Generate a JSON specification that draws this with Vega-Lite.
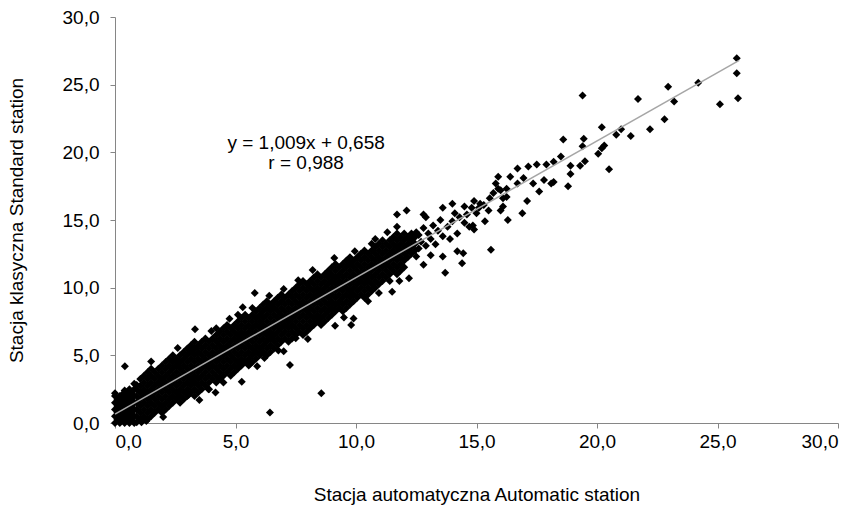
{
"$schema":"https://vega.github.io/schema/vega-lite/v6.json",
"autosize":"none",
"width":723,"height":406,
"padding":{"left":115,"top":17,"right":21,"bottom":85},
"background":"white",
"config":{"view":{"stroke":null},"font":"Liberation Sans",
"axis":{"grid":false,"domainColor":"#868686","tickColor":"#868686","tickSize":5,"labelColor":"#000000","labelFont":"Liberation Sans","labelFontSize":19,"titleFont":"Liberation Sans","titleFontSize":19,"titleFontWeight":"normal","titleColor":"#000000"}},
"datasets":{
"pts":[
{"x":0,"y":0},{"x":0,"y":0.5},{"x":0,"y":1.0},{"x":0,"y":1.5},{"x":0,"y":2.0},{"x":0,"y":2.2},
{"x":0.1,"y":0.25},{"x":0.1,"y":0.75},{"x":0.1,"y":1.25},{"x":0.1,"y":1.75},
{"x":0.2,"y":0},{"x":0.2,"y":0.5},{"x":0.2,"y":1.0},{"x":0.2,"y":1.5},{"x":0.2,"y":2.0},
{"x":0.3,"y":0.25},{"x":0.3,"y":0.75},{"x":0.3,"y":1.25},{"x":0.3,"y":1.75},{"x":0.3,"y":2.1},
{"x":0.4,"y":0},{"x":0.4,"y":0.5},{"x":0.4,"y":1.0},{"x":0.4,"y":1.5},{"x":0.4,"y":2.0},{"x":0.4,"y":2.4},
{"x":0.5,"y":0.25},{"x":0.5,"y":0.75},{"x":0.5,"y":1.25},{"x":0.5,"y":1.75},{"x":0.5,"y":2.25},
{"x":0.6,"y":0},{"x":0.6,"y":0.5},{"x":0.6,"y":1.0},{"x":0.6,"y":1.5},{"x":0.6,"y":2.0},{"x":0.6,"y":2.5},
{"x":0.7,"y":0.25},{"x":0.7,"y":0.75},{"x":0.7,"y":1.25},{"x":0.7,"y":1.75},{"x":0.7,"y":2.25},
{"x":0.8,"y":0},{"x":0.8,"y":0.5},{"x":0.8,"y":1.0},{"x":0.8,"y":1.5},{"x":0.8,"y":2.0},{"x":0.8,"y":2.5},{"x":0.8,"y":2.9},
{"x":0.9,"y":0.05},{"x":0.9,"y":0.5},{"x":0.9,"y":1.0},{"x":0.9,"y":1.5},{"x":0.9,"y":2.0},{"x":0.9,"y":2.5},{"x":0.9,"y":2.8},{"x":1.1,"y":0.05},{"x":1.3,"y":0.15},
{"x":1.05,"y":0.25},{"x":1.05,"y":0.75},{"x":1.05,"y":1.25},{"x":1.05,"y":1.75},{"x":1.05,"y":2.25},{"x":1.05,"y":2.75},{"x":1.05,"y":3.25},
{"x":1.2,"y":0.5},{"x":1.2,"y":1.0},{"x":1.2,"y":1.5},{"x":1.2,"y":2.0},{"x":1.2,"y":2.5},{"x":1.2,"y":3.0},{"x":1.2,"y":3.5},
{"x":1.35,"y":0.25},{"x":1.35,"y":0.75},{"x":1.35,"y":1.25},{"x":1.35,"y":1.75},{"x":1.35,"y":2.25},{"x":1.35,"y":2.75},{"x":1.35,"y":3.25},{"x":1.35,"y":3.75},
{"x":1.5,"y":0.5},{"x":1.5,"y":1.0},{"x":1.5,"y":1.5},{"x":1.5,"y":2.0},{"x":1.5,"y":2.5},{"x":1.5,"y":3.0},{"x":1.5,"y":3.5},{"x":1.5,"y":4.0},
{"x":1.65,"y":0.75},{"x":1.65,"y":1.25},{"x":1.65,"y":1.75},{"x":1.65,"y":2.25},{"x":1.65,"y":2.75},{"x":1.65,"y":3.25},{"x":1.65,"y":3.75},
{"x":1.8,"y":1.0},{"x":1.8,"y":1.5},{"x":1.8,"y":2.0},{"x":1.8,"y":2.5},{"x":1.8,"y":3.0},{"x":1.8,"y":3.5},{"x":1.8,"y":4.0},
{"x":1.95,"y":0.75},{"x":1.95,"y":1.25},{"x":1.95,"y":1.75},{"x":1.95,"y":2.25},{"x":1.95,"y":2.75},{"x":1.95,"y":3.25},{"x":1.95,"y":3.75},{"x":1.95,"y":4.25},
{"x":2.1,"y":1.0},{"x":2.1,"y":1.5},{"x":2.1,"y":2.0},{"x":2.1,"y":2.5},{"x":2.1,"y":3.0},{"x":2.1,"y":3.5},{"x":2.1,"y":4.0},{"x":2.1,"y":4.5},
{"x":2.25,"y":1.25},{"x":2.25,"y":1.75},{"x":2.25,"y":2.25},{"x":2.25,"y":2.75},{"x":2.25,"y":3.25},{"x":2.25,"y":3.75},{"x":2.25,"y":4.25},{"x":2.25,"y":4.75},
{"x":2.4,"y":1.5},{"x":2.4,"y":2.0},{"x":2.4,"y":2.5},{"x":2.4,"y":3.0},{"x":2.4,"y":3.5},{"x":2.4,"y":4.0},{"x":2.4,"y":4.5},{"x":2.4,"y":5.0},
{"x":2.55,"y":1.75},{"x":2.55,"y":2.25},{"x":2.55,"y":2.75},{"x":2.55,"y":3.25},{"x":2.55,"y":3.75},{"x":2.55,"y":4.25},{"x":2.55,"y":4.75},
{"x":2.7,"y":1.5},{"x":2.7,"y":2.0},{"x":2.7,"y":2.5},{"x":2.7,"y":3.0},{"x":2.7,"y":3.5},{"x":2.7,"y":4.0},{"x":2.7,"y":4.5},{"x":2.7,"y":5.0},
{"x":2.85,"y":1.75},{"x":2.85,"y":2.25},{"x":2.85,"y":2.75},{"x":2.85,"y":3.25},{"x":2.85,"y":3.75},{"x":2.85,"y":4.25},{"x":2.85,"y":4.75},{"x":2.85,"y":5.25},
{"x":3.0,"y":2.0},{"x":3.0,"y":2.5},{"x":3.0,"y":3.0},{"x":3.0,"y":3.5},{"x":3.0,"y":4.0},{"x":3.0,"y":4.5},{"x":3.0,"y":5.0},{"x":3.0,"y":5.5},
{"x":3.15,"y":2.25},{"x":3.15,"y":2.75},{"x":3.15,"y":3.25},{"x":3.15,"y":3.75},{"x":3.15,"y":4.25},{"x":3.15,"y":4.75},{"x":3.15,"y":5.25},{"x":3.15,"y":5.75},
{"x":3.3,"y":2.0},{"x":3.3,"y":2.5},{"x":3.3,"y":3.0},{"x":3.3,"y":3.5},{"x":3.3,"y":4.0},{"x":3.3,"y":4.5},{"x":3.3,"y":5.0},{"x":3.3,"y":5.5},{"x":3.3,"y":6.0},
{"x":3.45,"y":2.25},{"x":3.45,"y":2.75},{"x":3.45,"y":3.25},{"x":3.45,"y":3.75},{"x":3.45,"y":4.25},{"x":3.45,"y":4.75},{"x":3.45,"y":5.25},{"x":3.45,"y":5.75},
{"x":3.6,"y":2.5},{"x":3.6,"y":3.0},{"x":3.6,"y":3.5},{"x":3.6,"y":4.0},{"x":3.6,"y":4.5},{"x":3.6,"y":5.0},{"x":3.6,"y":5.5},{"x":3.6,"y":6.0},
{"x":3.75,"y":2.75},{"x":3.75,"y":3.25},{"x":3.75,"y":3.75},{"x":3.75,"y":4.25},{"x":3.75,"y":4.75},{"x":3.75,"y":5.25},{"x":3.75,"y":5.75},{"x":3.75,"y":6.25},
{"x":3.9,"y":2.5},{"x":3.9,"y":3.0},{"x":3.9,"y":3.5},{"x":3.9,"y":4.0},{"x":3.9,"y":4.5},{"x":3.9,"y":5.0},{"x":3.9,"y":5.5},{"x":3.9,"y":6.0},
{"x":4.05,"y":3.25},{"x":4.05,"y":3.75},{"x":4.05,"y":4.25},{"x":4.05,"y":4.75},{"x":4.05,"y":5.25},{"x":4.05,"y":5.75},{"x":4.05,"y":6.25},
{"x":4.2,"y":3.0},{"x":4.2,"y":3.5},{"x":4.2,"y":4.0},{"x":4.2,"y":4.5},{"x":4.2,"y":5.0},{"x":4.2,"y":5.5},{"x":4.2,"y":6.0},{"x":4.2,"y":6.5},{"x":4.2,"y":7.0},
{"x":4.35,"y":3.25},{"x":4.35,"y":3.75},{"x":4.35,"y":4.25},{"x":4.35,"y":4.75},{"x":4.35,"y":5.25},{"x":4.35,"y":5.75},{"x":4.35,"y":6.25},{"x":4.35,"y":6.75},
{"x":4.5,"y":3.5},{"x":4.5,"y":4.0},{"x":4.5,"y":4.5},{"x":4.5,"y":5.0},{"x":4.5,"y":5.5},{"x":4.5,"y":6.0},{"x":4.5,"y":6.5},{"x":4.5,"y":7.0},
{"x":4.65,"y":3.75},{"x":4.65,"y":4.25},{"x":4.65,"y":4.75},{"x":4.65,"y":5.25},{"x":4.65,"y":5.75},{"x":4.65,"y":6.25},{"x":4.65,"y":6.75},{"x":4.65,"y":7.25},
{"x":4.8,"y":3.5},{"x":4.8,"y":4.0},{"x":4.8,"y":4.5},{"x":4.8,"y":5.0},{"x":4.8,"y":5.5},{"x":4.8,"y":6.0},{"x":4.8,"y":6.5},{"x":4.8,"y":7.0},
{"x":4.95,"y":3.75},{"x":4.95,"y":4.25},{"x":4.95,"y":4.75},{"x":4.95,"y":5.25},{"x":4.95,"y":5.75},{"x":4.95,"y":6.25},{"x":4.95,"y":6.75},{"x":4.95,"y":7.25},
{"x":5.1,"y":4.0},{"x":5.1,"y":4.5},{"x":5.1,"y":5.0},{"x":5.1,"y":5.5},{"x":5.1,"y":6.0},{"x":5.1,"y":6.5},{"x":5.1,"y":7.0},{"x":5.1,"y":7.5},{"x":5.1,"y":8.0},
{"x":5.25,"y":4.25},{"x":5.25,"y":4.75},{"x":5.25,"y":5.25},{"x":5.25,"y":5.75},{"x":5.25,"y":6.25},{"x":5.25,"y":6.75},{"x":5.25,"y":7.25},{"x":5.25,"y":7.75},
{"x":5.4,"y":4.5},{"x":5.4,"y":5.0},{"x":5.4,"y":5.5},{"x":5.4,"y":6.0},{"x":5.4,"y":6.5},{"x":5.4,"y":7.0},{"x":5.4,"y":7.5},{"x":5.4,"y":8.0},
{"x":5.55,"y":4.25},{"x":5.55,"y":4.75},{"x":5.55,"y":5.25},{"x":5.55,"y":5.75},{"x":5.55,"y":6.25},{"x":5.55,"y":6.75},{"x":5.55,"y":7.25},{"x":5.55,"y":7.75},
{"x":5.7,"y":4.5},{"x":5.7,"y":5.0},{"x":5.7,"y":5.5},{"x":5.7,"y":6.0},{"x":5.7,"y":6.5},{"x":5.7,"y":7.0},{"x":5.7,"y":7.5},{"x":5.7,"y":8.0},{"x":5.7,"y":8.5},
{"x":5.85,"y":4.75},{"x":5.85,"y":5.25},{"x":5.85,"y":5.75},{"x":5.85,"y":6.25},{"x":5.85,"y":6.75},{"x":5.85,"y":7.25},{"x":5.85,"y":7.75},{"x":5.85,"y":8.25},
{"x":6.0,"y":5.0},{"x":6.0,"y":5.5},{"x":6.0,"y":6.0},{"x":6.0,"y":6.5},{"x":6.0,"y":7.0},{"x":6.0,"y":7.5},{"x":6.0,"y":8.0},{"x":6.0,"y":8.5},
{"x":6.15,"y":5.25},{"x":6.15,"y":5.75},{"x":6.15,"y":6.25},{"x":6.15,"y":6.75},{"x":6.15,"y":7.25},{"x":6.15,"y":7.75},{"x":6.15,"y":8.25},{"x":6.15,"y":8.75},
{"x":6.3,"y":5.0},{"x":6.3,"y":5.5},{"x":6.3,"y":6.0},{"x":6.3,"y":6.5},{"x":6.3,"y":7.0},{"x":6.3,"y":7.5},{"x":6.3,"y":8.0},{"x":6.3,"y":8.5},{"x":6.3,"y":9.0},
{"x":6.45,"y":5.25},{"x":6.45,"y":5.75},{"x":6.45,"y":6.25},{"x":6.45,"y":6.75},{"x":6.45,"y":7.25},{"x":6.45,"y":7.75},{"x":6.45,"y":8.25},{"x":6.45,"y":8.75},
{"x":6.6,"y":5.5},{"x":6.6,"y":6.0},{"x":6.6,"y":6.5},{"x":6.6,"y":7.0},{"x":6.6,"y":7.5},{"x":6.6,"y":8.0},{"x":6.6,"y":8.5},{"x":6.6,"y":9.0},
{"x":6.75,"y":5.75},{"x":6.75,"y":6.25},{"x":6.75,"y":6.75},{"x":6.75,"y":7.25},{"x":6.75,"y":7.75},{"x":6.75,"y":8.25},{"x":6.75,"y":8.75},{"x":6.75,"y":9.25},
{"x":6.9,"y":6.0},{"x":6.9,"y":6.5},{"x":6.9,"y":7.0},{"x":6.9,"y":7.5},{"x":6.9,"y":8.0},{"x":6.9,"y":8.5},{"x":6.9,"y":9.0},{"x":6.9,"y":9.5},
{"x":7.05,"y":6.25},{"x":7.05,"y":6.75},{"x":7.05,"y":7.25},{"x":7.05,"y":7.75},{"x":7.05,"y":8.25},{"x":7.05,"y":8.75},{"x":7.05,"y":9.25},
{"x":7.2,"y":6.0},{"x":7.2,"y":6.5},{"x":7.2,"y":7.0},{"x":7.2,"y":7.5},{"x":7.2,"y":8.0},{"x":7.2,"y":8.5},{"x":7.2,"y":9.0},{"x":7.2,"y":9.5},
{"x":7.35,"y":6.25},{"x":7.35,"y":6.75},{"x":7.35,"y":7.25},{"x":7.35,"y":7.75},{"x":7.35,"y":8.25},{"x":7.35,"y":8.75},{"x":7.35,"y":9.25},{"x":7.35,"y":9.75},
{"x":7.5,"y":6.5},{"x":7.5,"y":7.0},{"x":7.5,"y":7.5},{"x":7.5,"y":8.0},{"x":7.5,"y":8.5},{"x":7.5,"y":9.0},{"x":7.5,"y":9.5},{"x":7.5,"y":10.0},
{"x":7.65,"y":6.75},{"x":7.65,"y":7.25},{"x":7.65,"y":7.75},{"x":7.65,"y":8.25},{"x":7.65,"y":8.75},{"x":7.65,"y":9.25},{"x":7.65,"y":9.75},{"x":7.65,"y":10.25},
{"x":7.8,"y":6.5},{"x":7.8,"y":7.0},{"x":7.8,"y":7.5},{"x":7.8,"y":8.0},{"x":7.8,"y":8.5},{"x":7.8,"y":9.0},{"x":7.8,"y":9.5},{"x":7.8,"y":10.0},{"x":7.8,"y":10.5},
{"x":7.95,"y":6.75},{"x":7.95,"y":7.25},{"x":7.95,"y":7.75},{"x":7.95,"y":8.25},{"x":7.95,"y":8.75},{"x":7.95,"y":9.25},{"x":7.95,"y":9.75},{"x":7.95,"y":10.25},
{"x":8.1,"y":7.0},{"x":8.1,"y":7.5},{"x":8.1,"y":8.0},{"x":8.1,"y":8.5},{"x":8.1,"y":9.0},{"x":8.1,"y":9.5},{"x":8.1,"y":10.0},{"x":8.1,"y":10.5},
{"x":8.25,"y":7.25},{"x":8.25,"y":7.75},{"x":8.25,"y":8.25},{"x":8.25,"y":8.75},{"x":8.25,"y":9.25},{"x":8.25,"y":9.75},{"x":8.25,"y":10.25},{"x":8.25,"y":10.75},
{"x":8.4,"y":7.5},{"x":8.4,"y":8.0},{"x":8.4,"y":8.5},{"x":8.4,"y":9.0},{"x":8.4,"y":9.5},{"x":8.4,"y":10.0},{"x":8.4,"y":10.5},{"x":8.4,"y":11.0},
{"x":8.55,"y":7.25},{"x":8.55,"y":7.75},{"x":8.55,"y":8.25},{"x":8.55,"y":8.75},{"x":8.55,"y":9.25},{"x":8.55,"y":9.75},{"x":8.55,"y":10.25},{"x":8.55,"y":10.75},
{"x":8.7,"y":7.5},{"x":8.7,"y":8.0},{"x":8.7,"y":8.5},{"x":8.7,"y":9.0},{"x":8.7,"y":9.5},{"x":8.7,"y":10.0},{"x":8.7,"y":10.5},{"x":8.7,"y":11.0},
{"x":8.85,"y":7.75},{"x":8.85,"y":8.25},{"x":8.85,"y":8.75},{"x":8.85,"y":9.25},{"x":8.85,"y":9.75},{"x":8.85,"y":10.25},{"x":8.85,"y":10.75},{"x":8.85,"y":11.25},
{"x":9.0,"y":8.0},{"x":9.0,"y":8.5},{"x":9.0,"y":9.0},{"x":9.0,"y":9.5},{"x":9.0,"y":10.0},{"x":9.0,"y":10.5},{"x":9.0,"y":11.0},{"x":9.0,"y":11.5},
{"x":9.15,"y":8.25},{"x":9.15,"y":8.75},{"x":9.15,"y":9.25},{"x":9.15,"y":9.75},{"x":9.15,"y":10.25},{"x":9.15,"y":10.75},{"x":9.15,"y":11.25},{"x":9.15,"y":11.75},
{"x":9.3,"y":8.5},{"x":9.3,"y":9.0},{"x":9.3,"y":9.5},{"x":9.3,"y":10.0},{"x":9.3,"y":10.5},{"x":9.3,"y":11.0},{"x":9.3,"y":11.5},
{"x":9.45,"y":8.25},{"x":9.45,"y":8.75},{"x":9.45,"y":9.25},{"x":9.45,"y":9.75},{"x":9.45,"y":10.25},{"x":9.45,"y":10.75},{"x":9.45,"y":11.25},{"x":9.45,"y":11.75},
{"x":9.6,"y":8.5},{"x":9.6,"y":9.0},{"x":9.6,"y":9.5},{"x":9.6,"y":10.0},{"x":9.6,"y":10.5},{"x":9.6,"y":11.0},{"x":9.6,"y":11.5},{"x":9.6,"y":12.0},
{"x":9.75,"y":8.75},{"x":9.75,"y":9.25},{"x":9.75,"y":9.75},{"x":9.75,"y":10.25},{"x":9.75,"y":10.75},{"x":9.75,"y":11.25},{"x":9.75,"y":11.75},{"x":9.75,"y":12.25},
{"x":9.9,"y":9.0},{"x":9.9,"y":9.5},{"x":9.9,"y":10.0},{"x":9.9,"y":10.5},{"x":9.9,"y":11.0},{"x":9.9,"y":11.5},{"x":9.9,"y":12.0},
{"x":10.05,"y":9.25},{"x":10.05,"y":9.75},{"x":10.05,"y":10.25},{"x":10.05,"y":10.75},{"x":10.05,"y":11.25},{"x":10.05,"y":11.75},{"x":10.05,"y":12.25},
{"x":10.2,"y":9.5},{"x":10.2,"y":10.0},{"x":10.2,"y":10.5},{"x":10.2,"y":11.0},{"x":10.2,"y":11.5},{"x":10.2,"y":12.0},{"x":10.2,"y":12.5},
{"x":10.35,"y":9.25},{"x":10.35,"y":9.75},{"x":10.35,"y":10.25},{"x":10.35,"y":10.75},{"x":10.35,"y":11.25},{"x":10.35,"y":11.75},{"x":10.35,"y":12.25},{"x":10.35,"y":12.75},
{"x":10.5,"y":9.5},{"x":10.5,"y":10.0},{"x":10.5,"y":10.5},{"x":10.5,"y":11.0},{"x":10.5,"y":11.5},{"x":10.5,"y":12.0},{"x":10.5,"y":12.5},
{"x":10.65,"y":9.75},{"x":10.65,"y":10.25},{"x":10.65,"y":10.75},{"x":10.65,"y":11.25},{"x":10.65,"y":11.75},{"x":10.65,"y":12.25},{"x":10.65,"y":12.75},{"x":10.65,"y":13.25},
{"x":10.8,"y":10.0},{"x":10.8,"y":10.5},{"x":10.8,"y":11.0},{"x":10.8,"y":11.5},{"x":10.8,"y":12.0},{"x":10.8,"y":12.5},{"x":10.8,"y":13.0},
{"x":10.95,"y":10.25},{"x":10.95,"y":10.75},{"x":10.95,"y":11.25},{"x":10.95,"y":11.75},{"x":10.95,"y":12.25},{"x":10.95,"y":12.75},{"x":10.95,"y":13.25},
{"x":11.1,"y":10.5},{"x":11.1,"y":11.0},{"x":11.1,"y":11.5},{"x":11.1,"y":12.0},{"x":11.1,"y":12.5},{"x":11.1,"y":13.0},{"x":11.1,"y":13.5},
{"x":11.25,"y":10.75},{"x":11.25,"y":11.25},{"x":11.25,"y":11.75},{"x":11.25,"y":12.25},{"x":11.25,"y":12.75},{"x":11.25,"y":13.25},
{"x":11.4,"y":10.5},{"x":11.4,"y":11.0},{"x":11.4,"y":11.5},{"x":11.4,"y":12.0},{"x":11.4,"y":12.5},{"x":11.4,"y":13.0},{"x":11.4,"y":13.5},
{"x":11.55,"y":11.25},{"x":11.55,"y":11.75},{"x":11.55,"y":12.25},{"x":11.55,"y":12.75},{"x":11.55,"y":13.25},{"x":11.55,"y":13.75},
{"x":11.7,"y":11.0},{"x":11.7,"y":11.5},{"x":11.7,"y":12.0},{"x":11.7,"y":12.5},{"x":11.7,"y":13.0},{"x":11.7,"y":13.5},{"x":11.7,"y":14.0},
{"x":11.85,"y":11.25},{"x":11.85,"y":11.75},{"x":11.85,"y":12.25},{"x":11.85,"y":12.75},{"x":11.85,"y":13.25},{"x":11.85,"y":13.75},
{"x":12.0,"y":11.5},{"x":12.0,"y":12.0},{"x":12.0,"y":12.5},{"x":12.0,"y":13.0},{"x":12.0,"y":13.5},{"x":12.0,"y":14.0},
{"x":12.15,"y":12.25},{"x":12.15,"y":12.75},{"x":12.15,"y":13.25},{"x":12.15,"y":13.75},
{"x":12.3,"y":12.5},{"x":12.3,"y":13.0},{"x":12.3,"y":13.5},{"x":12.3,"y":14.0},
{"x":12.45,"y":12.75},{"x":12.45,"y":13.25},{"x":12.45,"y":13.75},
{"x":1.5,"y":4.55},{"x":2.6,"y":5.55},{"x":4.0,"y":6.8},{"x":4.75,"y":7.7},{"x":6.4,"y":9.4},{"x":7.0,"y":9.9},{"x":8.2,"y":11.3},{"x":9.1,"y":12.2},{"x":9.95,"y":12.7},{"x":10.8,"y":13.6},{"x":11.3,"y":14.1},
{"x":2.0,"y":0.45},{"x":3.5,"y":1.7},{"x":4.5,"y":3.0},{"x":5.9,"y":4.2},{"x":7.0,"y":5.3},{"x":8.0,"y":6.2},{"x":9.5,"y":7.8},{"x":10.5,"y":9.0},{"x":11.8,"y":10.5},
{"x":0.41,"y":4.2},{"x":3.32,"y":6.93},{"x":5.8,"y":9.6},{"x":5.3,"y":8.55},{"x":7.6,"y":10.55},{"x":8.8,"y":11.1},{"x":5.26,"y":3.05},{"x":6.43,"y":0.78},{"x":8.56,"y":2.2},{"x":7.26,"y":4.29},{"x":4.17,"y":2.25},{"x":3.88,"y":2.49},{"x":3.05,"y":2.07},{"x":6.78,"y":5.35},{"x":6.2,"y":4.8},{"x":5.6,"y":4.36},{"x":7.5,"y":6.26},{"x":9.9,"y":7.72},{"x":9.8,"y":7.25},{"x":9.13,"y":7.18},{"x":10.95,"y":9.6},{"x":11.5,"y":9.7},{"x":12.2,"y":10.7},{"x":11.7,"y":15.4},{"x":12.1,"y":15.7},{"x":11.7,"y":14.5},{"x":12.8,"y":15.4},{"x":12.9,"y":15.2},
{"x":12.5,"y":14.1},{"x":12.5,"y":12.3},{"x":12.6,"y":12.9},{"x":12.6,"y":13.9},{"x":12.7,"y":13.4},{"x":12.8,"y":14.4},{"x":12.8,"y":11.7},{"x":12.9,"y":13.1},{"x":13.0,"y":14.0},{"x":13.1,"y":12.4},{"x":13.1,"y":13.6},{"x":13.2,"y":14.6},{"x":13.3,"y":13.2},{"x":13.4,"y":14.2},{"x":13.5,"y":15.0},{"x":13.6,"y":12.3},{"x":13.6,"y":13.8},{"x":13.6,"y":15.9},{"x":13.7,"y":11.1},{"x":13.8,"y":14.5},{"x":13.9,"y":13.6},{"x":14.0,"y":16.2},{"x":14.0,"y":14.9},{"x":14.1,"y":15.5},{"x":14.2,"y":12.7},{"x":14.2,"y":14.0},{"x":14.3,"y":15.2},{"x":14.4,"y":11.8},{"x":14.45,"y":12.55},{"x":14.5,"y":14.8},{"x":14.5,"y":16.0},{"x":14.6,"y":15.4},{"x":14.7,"y":14.5},{"x":14.8,"y":15.9},{"x":14.85,"y":14.6},{"x":14.9,"y":16.4},{"x":14.9,"y":14.3},{"x":15.0,"y":15.5},{"x":15.1,"y":15.9},{"x":15.15,"y":16.2},{"x":15.3,"y":16.1},{"x":15.35,"y":14.9},{"x":15.5,"y":15.7},{"x":15.55,"y":16.6},{"x":15.6,"y":12.8},{"x":15.7,"y":17.0},{"x":15.8,"y":17.7},{"x":15.9,"y":18.2},{"x":15.9,"y":17.3},{"x":16.0,"y":17.2},{"x":16.0,"y":15.7},{"x":16.1,"y":16.6},{"x":16.1,"y":16.0},{"x":16.25,"y":16.7},{"x":16.25,"y":17.3},{"x":16.3,"y":15.0},{"x":16.4,"y":18.2},{"x":16.7,"y":18.8},{"x":16.7,"y":17.7},{"x":16.9,"y":15.5},{"x":16.95,"y":18.1},{"x":17.1,"y":16.4},{"x":17.15,"y":18.95},{"x":17.35,"y":17.7},{"x":17.5,"y":19.1},{"x":17.6,"y":17.1},{"x":17.8,"y":17.95},{"x":17.9,"y":19.1},{"x":18.1,"y":17.7},{"x":18.2,"y":19.3},{"x":18.2,"y":17.8},{"x":18.5,"y":19.7},{"x":18.6,"y":20.95},{"x":18.8,"y":17.5},{"x":18.9,"y":19.0},{"x":18.9,"y":18.4},{"x":19.3,"y":19.0},{"x":19.4,"y":24.2},{"x":19.45,"y":21.0},{"x":19.4,"y":20.45},{"x":19.5,"y":19.35},{"x":20.05,"y":19.9},{"x":20.2,"y":20.3},{"x":20.3,"y":20.5},{"x":20.2,"y":21.85},{"x":20.5,"y":18.75},{"x":20.8,"y":21.3},{"x":21.0,"y":21.7},{"x":21.4,"y":21.2},{"x":21.7,"y":23.95},{"x":22.2,"y":21.7},{"x":22.8,"y":22.45},{"x":22.95,"y":24.85},{"x":23.2,"y":23.75},{"x":24.2,"y":25.15},{"x":25.1,"y":23.55},{"x":25.8,"y":26.95},{"x":25.8,"y":25.85},{"x":25.85,"y":24.0}
],
"fit":[{"x":0,"y":0.658},{"x":25.9,"y":26.79}],
"eq":[{"x":7.93,"y":20.67,"label":"y = 1,009x +  0,658"},{"x":7.93,"y":19.19,"label":"r = 0,988"}]
},
"encoding":{
"x":{"field":"x","type":"quantitative","scale":{"domain":[0,30],"nice":false,"zero":false},
"axis":{"title":"Stacja automatyczna Automatic station","values":[0,5,10,15,20,25,30],"labelExpr":"replace(format(datum.value,'.1f'),'.',',')","labelPadding":4,"titlePadding":34}},
"y":{"field":"y","type":"quantitative","scale":{"domain":[0,30],"nice":false,"zero":false},
"axis":{"title":"Stacja klasyczna Standard station","values":[0,5,10,15,20,25,30],"labelExpr":"replace(format(datum.value,'.1f'),'.',',')","labelPadding":11,"titlePadding":36}}
},
"layer":[
{"data":{"name":"pts"},"mark":{"type":"point","shape":"diamond","filled":true,"fill":"#000000","strokeWidth":0,"opacity":1,"size":64}},
{"data":{"name":"fit"},"mark":{"type":"line","color":"#a6a6a6","strokeWidth":1.5}},
{"data":{"name":"eq"},"mark":{"type":"text","font":"Liberation Sans","fontSize":19,"color":"#000000","align":"center","baseline":"middle"},"encoding":{"text":{"field":"label"}}}
]
}
